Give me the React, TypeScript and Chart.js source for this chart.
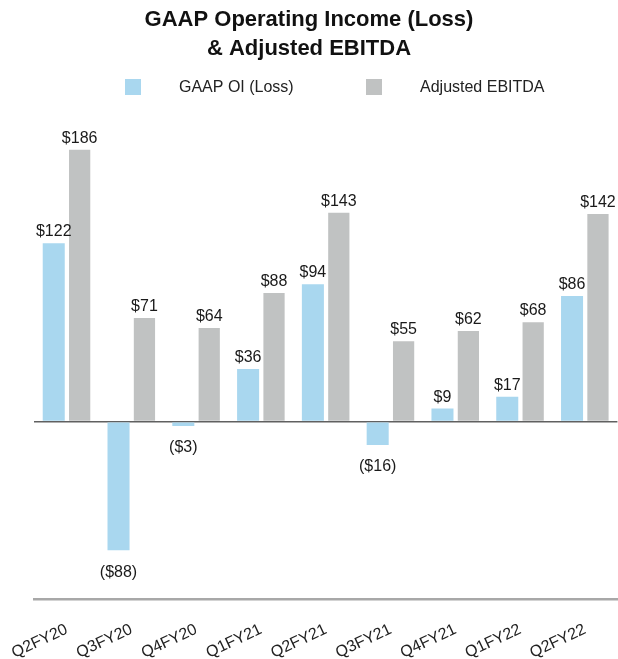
import React, { useEffect, useRef } from "react";
import { Chart, registerables } from "chart.js";

Chart.register(...registerables);

const titleLines = ["GAAP Operating Income (Loss)", "& Adjusted EBITDA"];
const categories = ["Q2FY20", "Q3FY20", "Q4FY20", "Q1FY21", "Q2FY21", "Q3FY21", "Q4FY21", "Q1FY22", "Q2FY22"];
const seriesNames = ["GAAP OI (Loss)", "Adjusted EBITDA"];
const gaapOI = [122, -88, -3, 36, 94, -16, 9, 17, 86];
const adjustedEbitda = [186, 71, 64, 88, 143, 55, 62, 68, 142];
const seriesColors = ["#a9d7ef", "#c0c2c2"];

const FONT = "'Liberation Sans', Arial, Helvetica, sans-serif";

const fmt = (v: number) => (v < 0 ? `($${Math.abs(v)})` : `$${v}`);

const valueLabelPlugin = {
  id: "valueLabels",
  afterDatasetsDraw(chart: any) {
    const ctx = chart.ctx;
    ctx.save();
    ctx.font = `16px ${FONT}`;
    ctx.fillStyle = "#1a1a1a";
    ctx.textAlign = "center";
    chart.data.datasets.forEach((ds: any, di: number) => {
      const meta = chart.getDatasetMeta(di);
      meta.data.forEach((bar: any, i: number) => {
        const v = ds.data[i] as number;
        if (v >= 0) {
          ctx.textBaseline = "alphabetic";
          ctx.fillText(fmt(v), bar.x, bar.y - 7);
        } else {
          ctx.textBaseline = "middle";
          ctx.fillText(fmt(v), bar.x, bar.y + 22);
        }
      });
    });
    ctx.restore();
  },
};

const headerPlugin = {
  id: "header",
  afterDraw(chart: any) {
    const ctx = chart.ctx;
    const cx = chart.width / 2;
    ctx.save();
    ctx.fillStyle = "#111111";
    ctx.textAlign = "center";
    ctx.textBaseline = "middle";
    ctx.font = `bold 22px ${FONT}`;
    ctx.fillText(titleLines[0], cx, 20);
    ctx.fillText(titleLines[1], cx, 49);

    const boxes = [
      { bx: 125, tx: 179 },
      { bx: 366, tx: 420 },
    ];
    ctx.font = `16px ${FONT}`;
    ctx.textAlign = "left";
    boxes.forEach((b, i) => {
      ctx.fillStyle = seriesColors[i];
      ctx.fillRect(b.bx, 79, 16, 16);
      ctx.fillStyle = "#222222";
      ctx.fillText(seriesNames[i], b.tx, 88);
    });
    ctx.restore();
  },
};

export default function App() {
  const canvasRef = useRef<HTMLCanvasElement | null>(null);

  useEffect(() => {
    const canvas = canvasRef.current;
    if (!canvas) return;
    const chart = new Chart(canvas, {
      type: "bar",
      data: {
        labels: categories,
        datasets: [
          {
            label: seriesNames[0],
            data: gaapOI,
            backgroundColor: seriesColors[0],
            categoryPercentage: 0.8,
            barPercentage: 0.85,
          },
          {
            label: seriesNames[1],
            data: adjustedEbitda,
            backgroundColor: seriesColors[1],
            categoryPercentage: 0.8,
            barPercentage: 0.82,
          },
        ],
      },
      options: {
        responsive: false,
        animation: false,
        devicePixelRatio: 1,
        layout: { padding: { top: 129.3, left: 34.3, right: 0.6, bottom: 0 } },
        plugins: {
          legend: { display: false },
          title: { display: false },
          tooltip: { enabled: false },
        },
        scales: {
          x: {
            grid: { display: false, drawTicks: false },
            border: { display: true, color: "#a8a8a8", width: 2.5 },
            ticks: {
              autoSkip: false,
              minRotation: 25,
              maxRotation: 25,
              padding: 21,
              color: "#222222",
              font: { family: FONT, size: 16 },
            },
            afterFit: (scale: any) => {
              scale.height = 60;
              scale.paddingLeft = 0;
              scale.paddingRight = 0;
            },
          },
          y: {
            min: -121.3,
            max: 200,
            ticks: { display: false, stepSize: 50 },
            border: { display: false },
            grid: {
              drawTicks: false,
              lineWidth: (c: any) => (c.tick && c.tick.value === 0 ? 1.6 : 0),
              color: (c: any) => (c.tick && c.tick.value === 0 ? "#606060" : "rgba(0,0,0,0)"),
            },
          },
        },
      },
      plugins: [valueLabelPlugin, headerPlugin],
    });
    return () => chart.destroy();
  }, []);

  return (
    <div style={{ position: "fixed", left: 0, top: 0, width: 618, height: 659, background: "#ffffff" }}>
      <canvas ref={canvasRef} width={618} height={659} style={{ width: 618, height: 659, display: "block" }} />
    </div>
  );
}
